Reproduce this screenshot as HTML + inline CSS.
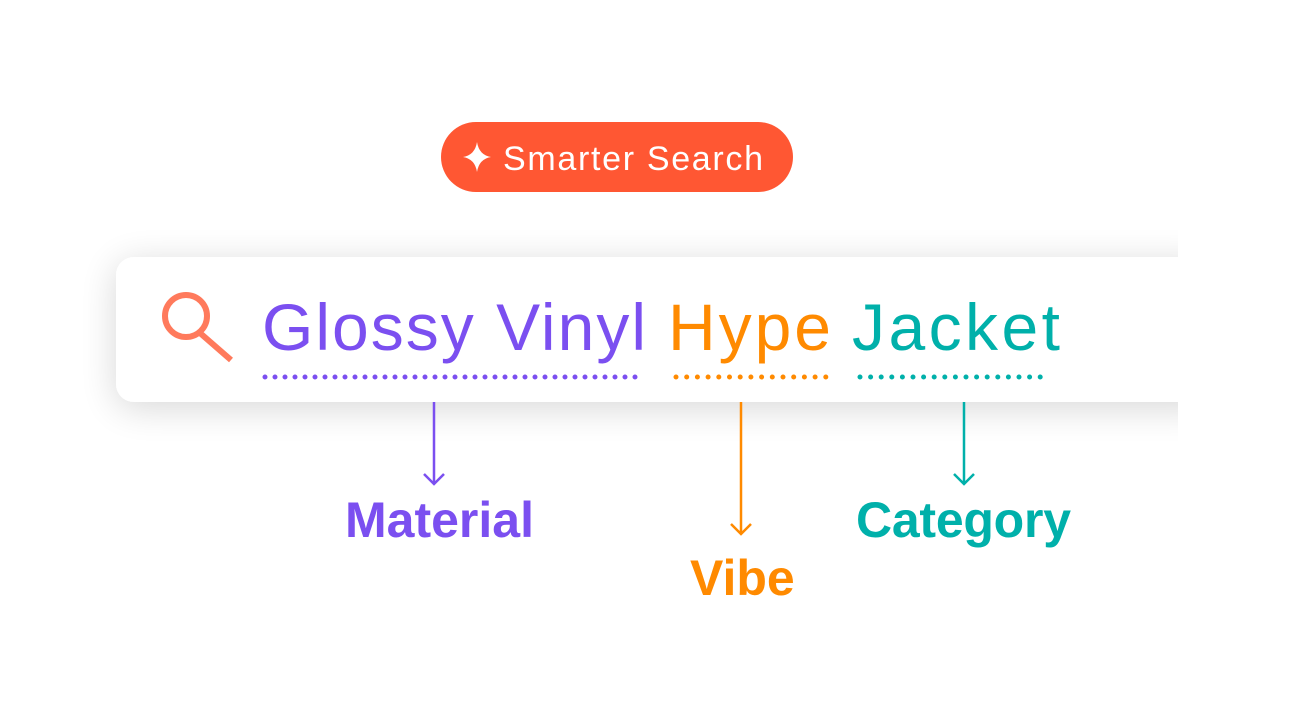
<!DOCTYPE html>
<html><head><meta charset="utf-8"><style>
html,body{margin:0;padding:0;background:#fff;width:1296px;height:728px;overflow:hidden}
svg{display:block}
</style></head><body>
<svg width="1296" height="728" viewBox="0 0 1296 728" xmlns="http://www.w3.org/2000/svg" font-family="Liberation Sans, Arial, sans-serif">
<defs>
<filter id="sh" x="-10%" y="-50%" width="120%" height="200%">
<feGaussianBlur in="SourceAlpha" stdDeviation="18"/>
<feOffset dx="0" dy="6"/>
<feComponentTransfer><feFuncA type="linear" slope="0.16"/></feComponentTransfer>
<feMerge><feMergeNode/><feMergeNode in="SourceGraphic"/></feMerge>
</filter>
<clipPath id="c"><rect x="0" y="0" width="1178" height="728"/></clipPath>
</defs>
<g clip-path="url(#c)">
<rect x="116" y="257" width="1100" height="145" rx="18" fill="#fff" filter="url(#sh)"/>
</g>
<rect x="441" y="122" width="352" height="70" rx="35" fill="#FF5733"/>
<path d="M477 142 Q479 155 491 157 Q479 159 477 172 Q475 159 463 157 Q475 155 477 142Z" fill="#fff"/>
<text x="503" y="170" font-size="34" fill="#fff" textLength="260">Smarter Search</text>
<circle cx="186" cy="316" r="21" fill="none" stroke="#FF7A5C" stroke-width="6"/>
<line x1="200" y1="333" x2="231" y2="360" stroke="#FF7A5C" stroke-width="6"/>
<text x="262" y="350" font-size="66" fill="#7B4FF0" textLength="384">Glossy Vinyl</text>
<text x="668" y="350" font-size="66" fill="#FF8A00" textLength="163">Hype</text>
<text x="852" y="350" font-size="66" fill="#00B0AA" textLength="208">Jacket</text>
<line x1="265" y1="377" x2="640" y2="377" stroke="#7B4FF0" stroke-width="5" stroke-linecap="round" stroke-dasharray="0 10"/>
<line x1="676" y1="377" x2="826" y2="377" stroke="#FF8A00" stroke-width="5" stroke-linecap="round" stroke-dasharray="0 10.7"/>
<line x1="860" y1="377" x2="1050" y2="377" stroke="#00B0AA" stroke-width="5" stroke-linecap="round" stroke-dasharray="0 10.6"/>
<g fill="none" stroke-width="2.5">
<path d="M434 402 V484 M424 474 L434 484 L444 474" stroke="#7B4FF0"/>
<path d="M741 402 V534 M731 524 L741 534 L751 524" stroke="#FF8A00"/>
<path d="M964 402 V484 M954 474 L964 484 L974 474" stroke="#00B0AA"/>
</g>
<text x="345" y="537" font-size="50" font-weight="bold" fill="#7B4FF0">Material</text>
<text x="690" y="595" font-size="50" font-weight="bold" fill="#FF8A00">Vibe</text>
<text x="856" y="537" font-size="50" font-weight="bold" fill="#00B0AA" textLength="215">Category</text>
</svg>
</body></html>
